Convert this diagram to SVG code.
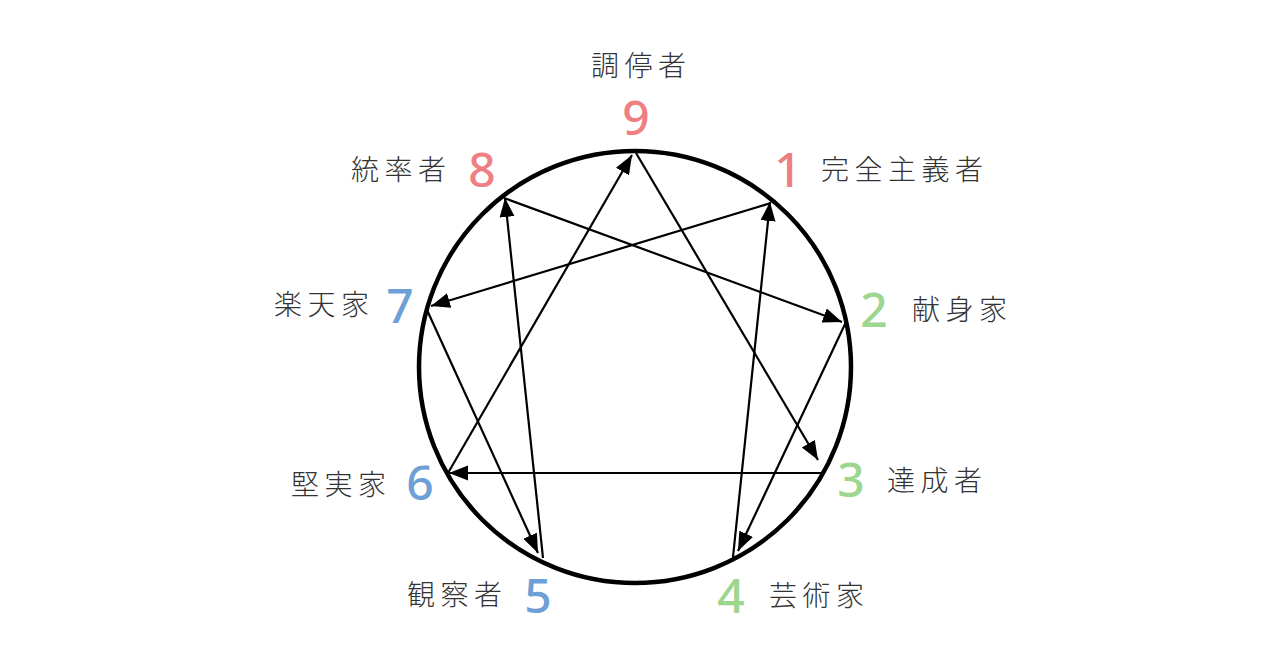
<svg xmlns="http://www.w3.org/2000/svg" width="1280" height="671" viewBox="0 0 1280 671">
<defs>
<style>
.lbl{font-family:"Noto Sans CJK JP","Noto Sans CJK SC",sans-serif;font-size:28px;font-weight:300;letter-spacing:5.5px;fill:#333}
.num{font-family:"Noto Sans","Open Sans",sans-serif;font-size:48px;font-weight:500;text-anchor:middle}
.red{fill:#ee7f82}.grn{fill:#9cd68f}.blu{fill:#6f9fd7}
.ring{fill:none;stroke:#000;stroke-width:4.5}
.edge{stroke:#000;stroke-width:2.2;fill:none;marker-end:url(#ah)}
</style>
<marker id="ah" markerUnits="userSpaceOnUse" markerWidth="22" markerHeight="18" refX="19" refY="7.5" orient="auto">
<path d="M0,0 L19,7.5 L0,15 z" fill="#000"/>
</marker>
</defs>
<rect width="1280" height="671" fill="#fff"/>
<circle class="ring" cx="635" cy="367" r="216"/>
<g id="connectors">
<line class="edge" x1="771" y1="203" x2="431" y2="306"/>
<line class="edge" x1="427" y1="310" x2="538" y2="553"/>
<line class="edge" x1="543" y1="558" x2="505" y2="198"/>
<line class="edge" x1="504" y1="198" x2="842" y2="322"/>
<line class="edge" x1="846" y1="322" x2="738" y2="551"/>
<line class="edge" x1="733" y1="557" x2="770" y2="202"/>
<line class="edge" x1="636" y1="153" x2="818" y2="460"/>
<line class="edge" x1="822" y1="473" x2="449" y2="473"/>
<line class="edge" x1="448" y1="473" x2="632" y2="155"/>
</g>
<g id="node9"><text class="num red" x="636" y="135">9</text><text class="lbl" x="591" y="76">調停者</text></g>
<g id="node1"><text class="num red" x="788" y="187">1</text><text class="lbl" x="821" y="180">完全主義者</text></g>
<g id="node2"><text class="num grn" x="874" y="327">2</text><text class="lbl" x="912" y="320">献身家</text></g>
<g id="node3"><text class="num grn" x="851" y="497">3</text><text class="lbl" x="887" y="491">達成者</text></g>
<g id="node4"><text class="num grn" x="731" y="613">4</text><text class="lbl" x="769" y="606">芸術家</text></g>
<g id="node5"><text class="num blu" x="538" y="613">5</text><text class="lbl" x="407" y="605">観察者</text></g>
<g id="node6"><text class="num blu" x="420" y="500">6</text><text class="lbl" x="291" y="495">堅実家</text></g>
<g id="node7"><text class="num blu" x="400" y="323">7</text><text class="lbl" x="274" y="315">楽天家</text></g>
<g id="node8"><text class="num red" x="482" y="187">8</text><text class="lbl" x="351" y="180">統率者</text></g>
</svg>
